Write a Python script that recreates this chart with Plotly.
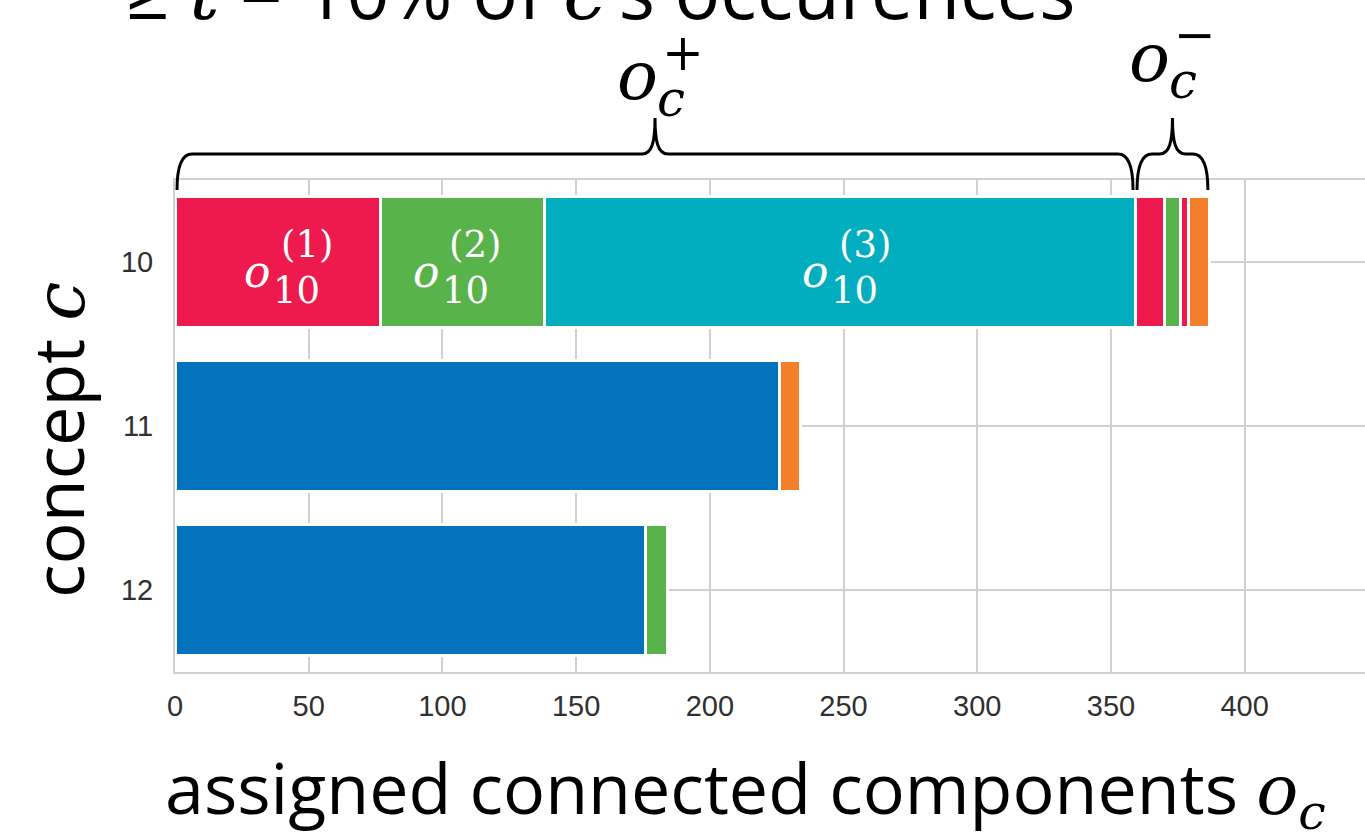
import plotly.graph_objects as go

# ---------------- data ----------------
concepts = ["10", "11", "12"]

# connected components assigned to each concept, stacked left to right
row10_counts = [77, 61, 221, 11, 6, 3, 8]
row10_colors = ["red", "green", "cyan", "red", "green", "red", "orange"]
row11_counts = [226, 8]
row11_colors = ["blue", "orange"]
row12_counts = [176, 8]
row12_colors = ["blue", "green"]

# the first three components of concept 10 reach the threshold (o_c^+)
n_positive = 3
positive_labels = ["(1)", "(2)", "(3)"]

x_ticks = [0, 50, 100, 150, 200, 250, 300, 350, 400]
x_max = 445

# ---------------- style ----------------
palette = {
    "red": "#EE1A4E",
    "green": "#57B34A",
    "cyan": "#00AEBF",
    "blue": "#0273BC",
    "orange": "#F47F2B",
}
grid_color = "#d0d0d0"
tick_color = "#303030"
sans = "Open Sans, Liberation Sans, sans-serif"
serif = "DejaVu Serif, serif"

W, H = 1365, 834
M_L, M_R, M_T, M_B = 175, 0, 180, 162
plot_w = W - M_L - M_R
plot_h = H - M_T - M_B
px_per_unit = plot_w / x_max


def paper_x(px):
    return (px - M_L) / plot_w


def paper_y(py):
    return (H - M_B - py) / plot_h


def units(px):
    return px / px_per_unit


fig = go.Figure()

rows = [
    (concepts[0], row10_counts, row10_colors),
    (concepts[1], row11_counts, row11_colors),
    (concepts[2], row12_counts, row12_colors),
]
for concept, counts, colors in rows:
    for value, cname in zip(counts, colors):
        fig.add_trace(go.Bar(
            x=[value], y=[concept], orientation="h",
            marker=dict(color=palette[cname], line=dict(color="white", width=3)),
            showlegend=False, hoverinfo="x+y",
        ))

# ---------------- labels inside the o_c^+ bars ----------------
label_nudge = [-20, -36, -24]   # horizontal pixel nudge of each "o"
row_index = concepts.index("10")  # category position on the y axis
annotations = []
left = 0
for i in range(n_positive):
    value = row10_counts[i]
    mid = left + value / 2
    left += value
    ox = label_nudge[i]
    common = dict(xref="x", yref="y", x=mid, y=row_index, showarrow=False,
                  xanchor="center", yanchor="middle")
    annotations.append(dict(text="<i>o</i>", xshift=ox, yshift=-9,
                            font=dict(family=serif, size=44, color="white"), **common))
    annotations.append(dict(text=positive_labels[i], xshift=ox + 49, yshift=18,
                            font=dict(family=serif, size=37, color="white"), **common))
    annotations.append(dict(text="10", xshift=ox + 39, yshift=-28,
                            font=dict(family=serif, size=37, color="white"), **common))

# ---------------- braces above concept 10 ----------------
pos_end = sum(row10_counts[:n_positive])
neg_end = sum(row10_counts)


def brace_path(x0, x1):
    y_end, y_flat, y_tip = paper_y(190), paper_y(154), paper_y(118)
    y_bend_end, y_bend_tip = paper_y(170), paper_y(142)
    xm = (x0 + x1) / 2
    c, t, k = units(15), units(13), units(3)
    return (
        f"M {x0},{y_end} C {x0},{y_bend_end} {x0 + k},{y_flat} {x0 + c},{y_flat} "
        f"L {xm - t},{y_flat} C {xm - k},{y_flat} {xm},{y_bend_tip} {xm},{y_tip} "
        f"C {xm},{y_bend_tip} {xm + k},{y_flat} {xm + t},{y_flat} "
        f"L {x1 - c},{y_flat} C {x1 - k},{y_flat} {x1},{y_bend_end} {x1},{y_end}"
    )


inset = units(2)
shapes = [
    dict(type="path", xref="x", yref="paper", path=brace_path(0 + inset, pos_end - inset),
         line=dict(color="black", width=3)),
    dict(type="path", xref="x", yref="paper", path=brace_path(pos_end + inset, neg_end - inset),
         line=dict(color="black", width=3)),
]


def brace_label(x_mid, o_dx, o_py, sign):
    base = dict(xref="x", yref="paper", x=x_mid, showarrow=False,
                xanchor="center", yanchor="middle")
    return [
        dict(text="<i>o</i>", xshift=o_dx, y=paper_y(o_py - 6),
             font=dict(family=serif, size=68, color="black"), **base),
        dict(text="<i>c</i>", xshift=o_dx + 34, y=paper_y(o_py + 18),
             font=dict(family=serif, size=50, color="black"), **base),
        dict(text=sign, xshift=o_dx + 46, y=paper_y(o_py - 28),
             font=dict(family=serif, size=50, color="black"), **base),
    ]


annotations += brace_label(pos_end / 2, -18, 81, "+")
annotations += brace_label((pos_end + neg_end) / 2, -23, 63, "\u2212")

# ---------------- titles ----------------
math_c = f"<span style=\"font-family:{serif}\"><i>c</i></span>"
math_t = f"<span style=\"font-family:{serif}\"><i>t</i></span>"
math_oc = f"<span style=\"font-family:{serif}\"><i>o</i><sub><i>c</i></sub></span>"

annotations.append(dict(
    text=f"\u2265 {math_t} = 10% of {math_c}\u2019s occurences",
    xref="paper", yref="paper", x=paper_x(600), y=paper_y(-10),
    xanchor="center", yanchor="middle", showarrow=False,
    font=dict(family=sans, size=76, color="black"),
))
annotations.append(dict(
    text=f"assigned connected components {math_oc}",
    xref="paper", yref="paper", x=paper_x(745), y=paper_y(790),
    xanchor="center", yanchor="middle", showarrow=False,
    font=dict(family=sans, size=70, color="black"),
))
annotations.append(dict(
    text=f"concept {math_c}",
    xref="paper", yref="paper", x=paper_x(57), y=paper_y(440),
    xanchor="center", yanchor="middle", textangle=-90, showarrow=False,
    font=dict(family=sans, size=70, color="black"),
))

tick_font = dict(family="Liberation Sans, Arial, sans-serif", size=29, color=tick_color)

fig.update_layout(
    width=W, height=H,
    margin=dict(l=M_L, r=M_R, t=M_T, b=M_B, pad=0),
    barmode="stack", bargap=0.2,
    plot_bgcolor="white", paper_bgcolor="white",
    shapes=shapes, annotations=annotations,
    xaxis=dict(
        range=[0, x_max], tickvals=x_ticks, ticktext=[str(v) for v in x_ticks],
        showgrid=True, gridcolor=grid_color, gridwidth=2,
        zeroline=False, showline=True, linecolor=grid_color, linewidth=2, mirror=True,
        ticks="", ticklabelstandoff=7, automargin=False, tickfont=tick_font,
    ),
    yaxis=dict(
        type="category", categoryorder="array", categoryarray=concepts,
        range=[len(concepts) - 0.5, -0.5],
        showgrid=True, gridcolor=grid_color, gridwidth=2,
        zeroline=False, showline=True, linecolor=grid_color, linewidth=2,
        ticks="", ticklabelstandoff=14, automargin=False, tickfont=tick_font,
    ),
)

fig.write_html("out.html")
